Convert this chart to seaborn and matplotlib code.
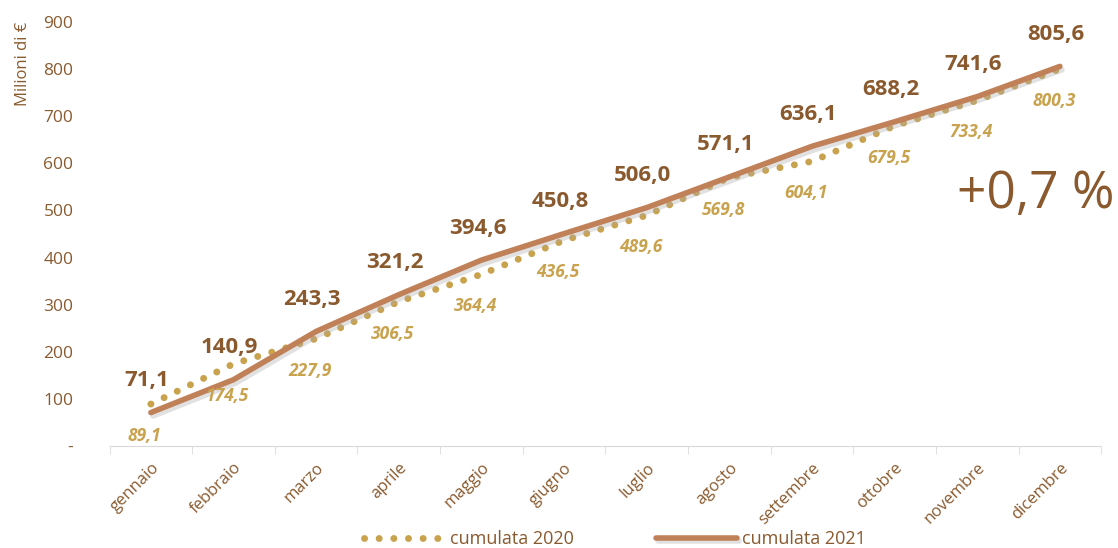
import pandas as pd
import matplotlib
matplotlib.use("Agg")
import matplotlib.pyplot as plt
import matplotlib.patheffects as pe
import seaborn as sns

# Data
mesi = ["gennaio", "febbraio", "marzo", "aprile", "maggio", "giugno",
        "luglio", "agosto", "settembre", "ottobre", "novembre", "dicembre"]
cum_2020 = [89.1, 174.5, 227.9, 306.5, 364.4, 436.5, 489.6, 569.8, 604.1, 679.5, 733.4, 800.3]
cum_2021 = [71.1, 140.9, 243.3, 321.2, 394.6, 450.8, 506.0, 571.1, 636.1, 688.2, 741.6, 805.6]
y_ticks = [0, 100, 200, 300, 400, 500, 600, 700, 800, 900]
y_tick_labels = ["-", "100", "200", "300", "400", "500", "600", "700", "800", "900"]

BROWN = "#8A5A2E"
LINE21 = "#C08058"
GOLD = "#C9A24E"

df = pd.DataFrame({"mese": mesi, "2020": cum_2020, "2021": cum_2021})
df["pos"] = range(len(mesi))

sns.set_style("white")
plt.rcParams["font.family"] = ["Open Sans", "DejaVu Sans"]

fig, ax = plt.subplots(figsize=(11.18, 5.48), dpi=100)
fig.subplots_adjust(left=0.098, right=0.985, top=0.96, bottom=0.186)

sns.lineplot(data=df, x="pos", y="2020", ax=ax, color=GOLD, linestyle=(0, (0.01, 2.1)),
             linewidth=5, label="cumulata 2020")
sns.lineplot(data=df, x="pos", y="2021", ax=ax, color=LINE21, linewidth=4,
             solid_capstyle="round", label="cumulata 2021",
             path_effects=[pe.SimpleLineShadow(offset=(1.5, -2.5), shadow_color="#AAAAAA", alpha=0.35),
                           pe.Normal()])
for ln in ax.get_lines():
    if ln.get_label() == "cumulata 2020":
        ln.set_dash_capstyle("round")

def fmt(v):
    return f"{v:.1f}".replace(".", ",")

for x, v in zip(df["pos"], df["2021"]):
    ax.annotate(fmt(v), (x, v), xytext=(-4, 32), textcoords="offset pixels",
                ha="center", va="center", fontsize=16, fontweight="bold", color=BROWN)
for x, v in zip(df["pos"], df["2020"]):
    ax.annotate(fmt(v), (x, v), xytext=(-6, -32), textcoords="offset pixels",
                ha="center", va="center", fontsize=12.5, fontweight="bold",
                fontstyle="italic", color=GOLD)

fig.text(0.997, 0.645, "+0,7 %", ha="right", va="center",
         fontsize=37, color=BROWN)

ax.set_xlim(-0.5, len(mesi) - 0.5)
ax.set_ylim(0, 900)
ax.set_yticks(y_ticks)
ax.set_yticklabels(y_tick_labels)
ax.set_xticks(df["pos"])
ax.set_xticklabels(mesi, rotation=45, ha="right", rotation_mode="anchor")
ax.set_xticks([p - 0.5 for p in range(len(mesi) + 1)], minor=True)
ax.tick_params(axis="x", which="major", length=0, labelsize=12, colors=BROWN, pad=10)
ax.tick_params(axis="x", which="minor", length=6, color="#D9D9D9", direction="out", bottom=True)
ax.tick_params(axis="y", length=0, labelsize=12.5, colors=BROWN, pad=26)
ax.set_xlabel("")
ax.set_ylabel("Milioni di €", color=BROWN, fontsize=12, loc="top")
ax.yaxis.set_label_coords(-0.079, 1.0)

for s in ["top", "right", "left"]:
    ax.spines[s].set_visible(False)
ax.spines["bottom"].set_color("#D9D9D9")

handles, labels = ax.get_legend_handles_labels()
ax.get_legend().remove()
leg = fig.legend(handles, labels, loc="center", bbox_to_anchor=(0.55, 0.016), ncol=2,
                 frameon=False, fontsize=13, handlelength=4.5, columnspacing=4.5,
                 handletextpad=0.3, borderpad=0)
for t in leg.get_texts():
    t.set_color(BROWN)

plt.savefig("out.png", dpi=100)
